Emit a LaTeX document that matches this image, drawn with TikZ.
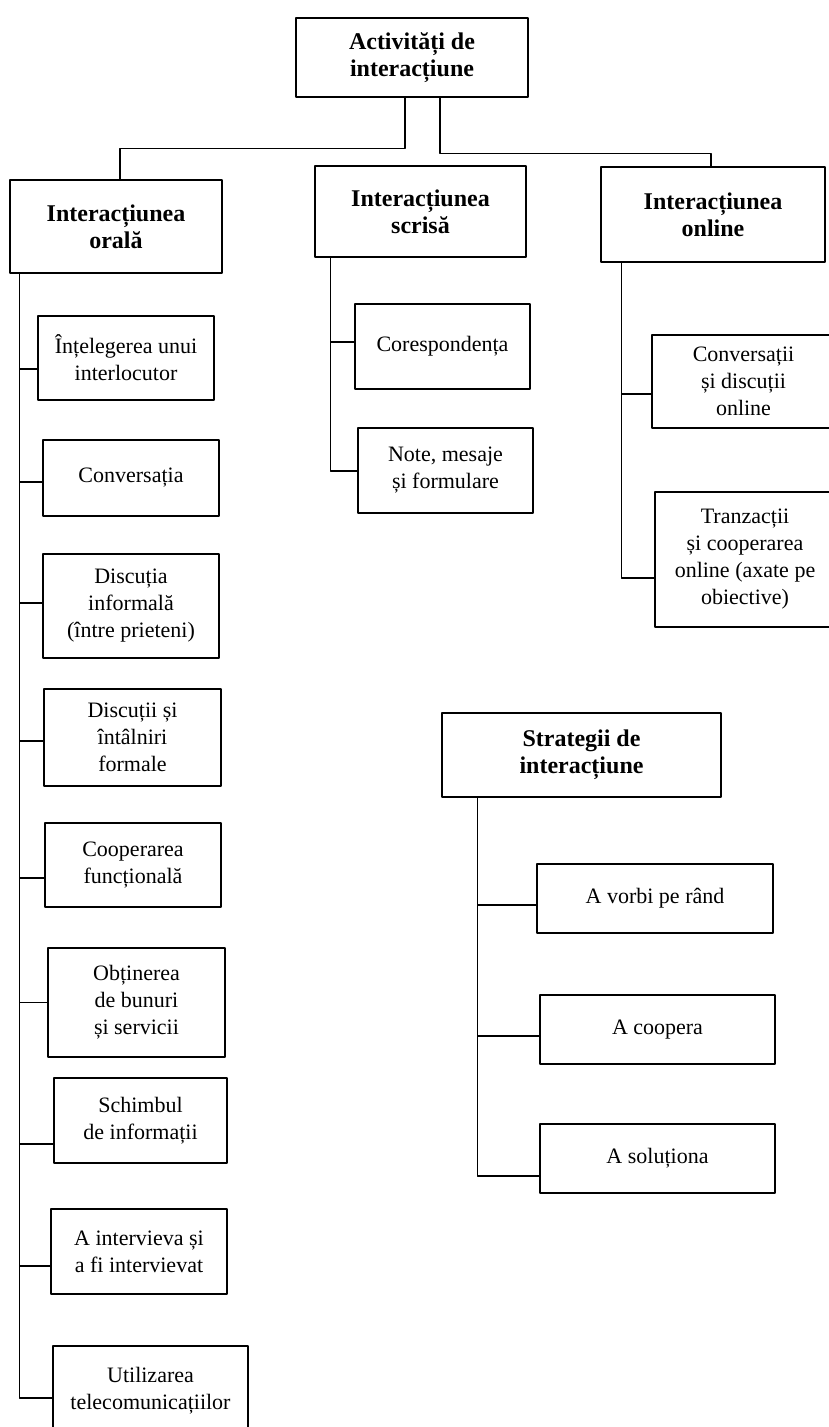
\documentclass[tikz,border=0pt]{standalone}
\usepackage{fontspec}
\setmainfont{Liberation Serif}
\usetikzlibrary{calc}

\begin{document}
\begin{tikzpicture}[line cap=round,line join=round,x=1pt,y=-1pt,
  box/.style={draw,line width=2.1pt,align=center,inner sep=0pt,font=\fontsize{22}{27}\selectfont},
  head/.style={box,line width=2.6pt,font=\fontsize{24}{27}\selectfont\bfseries},
  link/.style={line width=1.3pt}]
\useasboundingbox (0,0) rectangle (829,1427);
\node[head,minimum width=232pt,minimum height=79pt] (act) at (412,57.5) {Activități de\\interacțiune};
\node[head,minimum width=212pt,minimum height=93pt] (oral) at (116,226.5) {Interacțiunea\\orală};
\node[head,minimum width=211pt,minimum height=91pt] (scris) at (420.5,211.5) {Interacțiunea\\scrisă};
\node[head,minimum width=224pt,minimum height=95pt] (onl) at (713,214.5) {Interacțiunea\\online};
\node[head,minimum width=279pt,minimum height=84pt] (str) at (581.5,755) {Strategii de\\interacțiune};
\node[box,minimum width=176pt,minimum height=84pt] (o1) at (126,358) {Înțelegerea unui\\interlocutor};
\node[box,minimum width=176pt,minimum height=76pt] (o2) at (131,478) {Conversația};
\node[box,minimum width=176pt,minimum height=104pt] (o3) at (131,606) {Discuția\\informală\\(între prieteni)};
\node[box,minimum width=177pt,minimum height=97pt] (o4) at (132.5,737.5) {Discuții și\\întâlniri\\formale};
\node[box,minimum width=176pt,minimum height=84pt] (o5) at (133,865) {Cooperarea\\funcțională};
\node[box,minimum width=177pt,minimum height=109pt] (o6) at (136.5,1002.5) {Obținerea\\de bunuri\\și servicii};
\node[box,minimum width=173pt,minimum height=85pt] (o7) at (140.5,1120.5) {Schimbul\\de informații};
\node[box,minimum width=176pt,minimum height=85pt] (o8) at (139,1251.5) {A intervieva și\\a fi intervievat};
\node[box,minimum width=195pt,minimum height=90pt] (o9) at (150.5,1391) {Utilizarea\\telecomunicațiilor};
\node[box,minimum width=175pt,minimum height=85pt] (s1) at (442.5,346.5) {Corespondența};
\node[box,minimum width=175pt,minimum height=85pt] (s2) at (445.5,470.5) {Note, mesaje\\și formulare};
\node[box,minimum width=183pt,minimum height=93pt] (n1) at (743.5,381.5) {Conversații\\și discuții\\online};
\node[box,minimum width=180pt,minimum height=135pt] (n2) at (745,559.5) {Tranzacții\\și cooperarea\\online (axate pe\\obiective)};
\node[box,minimum width=236pt,minimum height=69pt] (t1) at (655,898.5) {A vorbi pe rând};
\node[box,minimum width=235pt,minimum height=69pt] (t2) at (657.5,1029.5) {A coopera};
\node[box,minimum width=235pt,minimum height=69pt] (t3) at (657.5,1158.5) {A soluționa};
\draw[link] ([xshift=-7pt]act.south) -- ++(0,50) -| ([xshift=4pt]oral.north);
\draw[link] ([xshift=28pt]act.south) -- ++(0,55) -| ([xshift=-2pt]onl.north);
\coordinate (oT) at ([xshift=11pt]oral.south west);
\coordinate (sT) at ([xshift=17pt]scris.south west);
\coordinate (nT) at ([xshift=22pt]onl.south west);
\coordinate (tT) at ([xshift=37pt]str.south west);
\draw[link] (oT) -- ($(o9.west -| oT)+(0,7)$);
\draw[link] (sT) -- ($(s2.west -| sT)+(0,0.5)$);
\draw[link] (nT) -- ($(n2.west -| nT)+(0,18.5)$);
\draw[link] (tT) -- ($(t3.west -| tT)+(0,17.5)$);
\foreach \n/\d in {o1/11,o2/4,o3/-3,o4/3.5,o5/13,o6/0,o7/23.5,o8/14.5,o9/7}
  \draw[link] ($(\n.west -| oT)+(0,\d)$) -- ($(\n.west)+(0,\d)$);
\foreach \n/\d in {s1/-4.5,s2/0.5}
  \draw[link] ($(\n.west -| sT)+(0,\d)$) -- ($(\n.west)+(0,\d)$);
\foreach \n/\d in {n1/12.5,n2/18.5}
  \draw[link] ($(\n.west -| nT)+(0,\d)$) -- ($(\n.west)+(0,\d)$);
\foreach \n/\d in {t1/6.5,t2/6.5,t3/17.5}
  \draw[link] ($(\n.west -| tT)+(0,\d)$) -- ($(\n.west)+(0,\d)$);
\end{tikzpicture}
\end{document}
